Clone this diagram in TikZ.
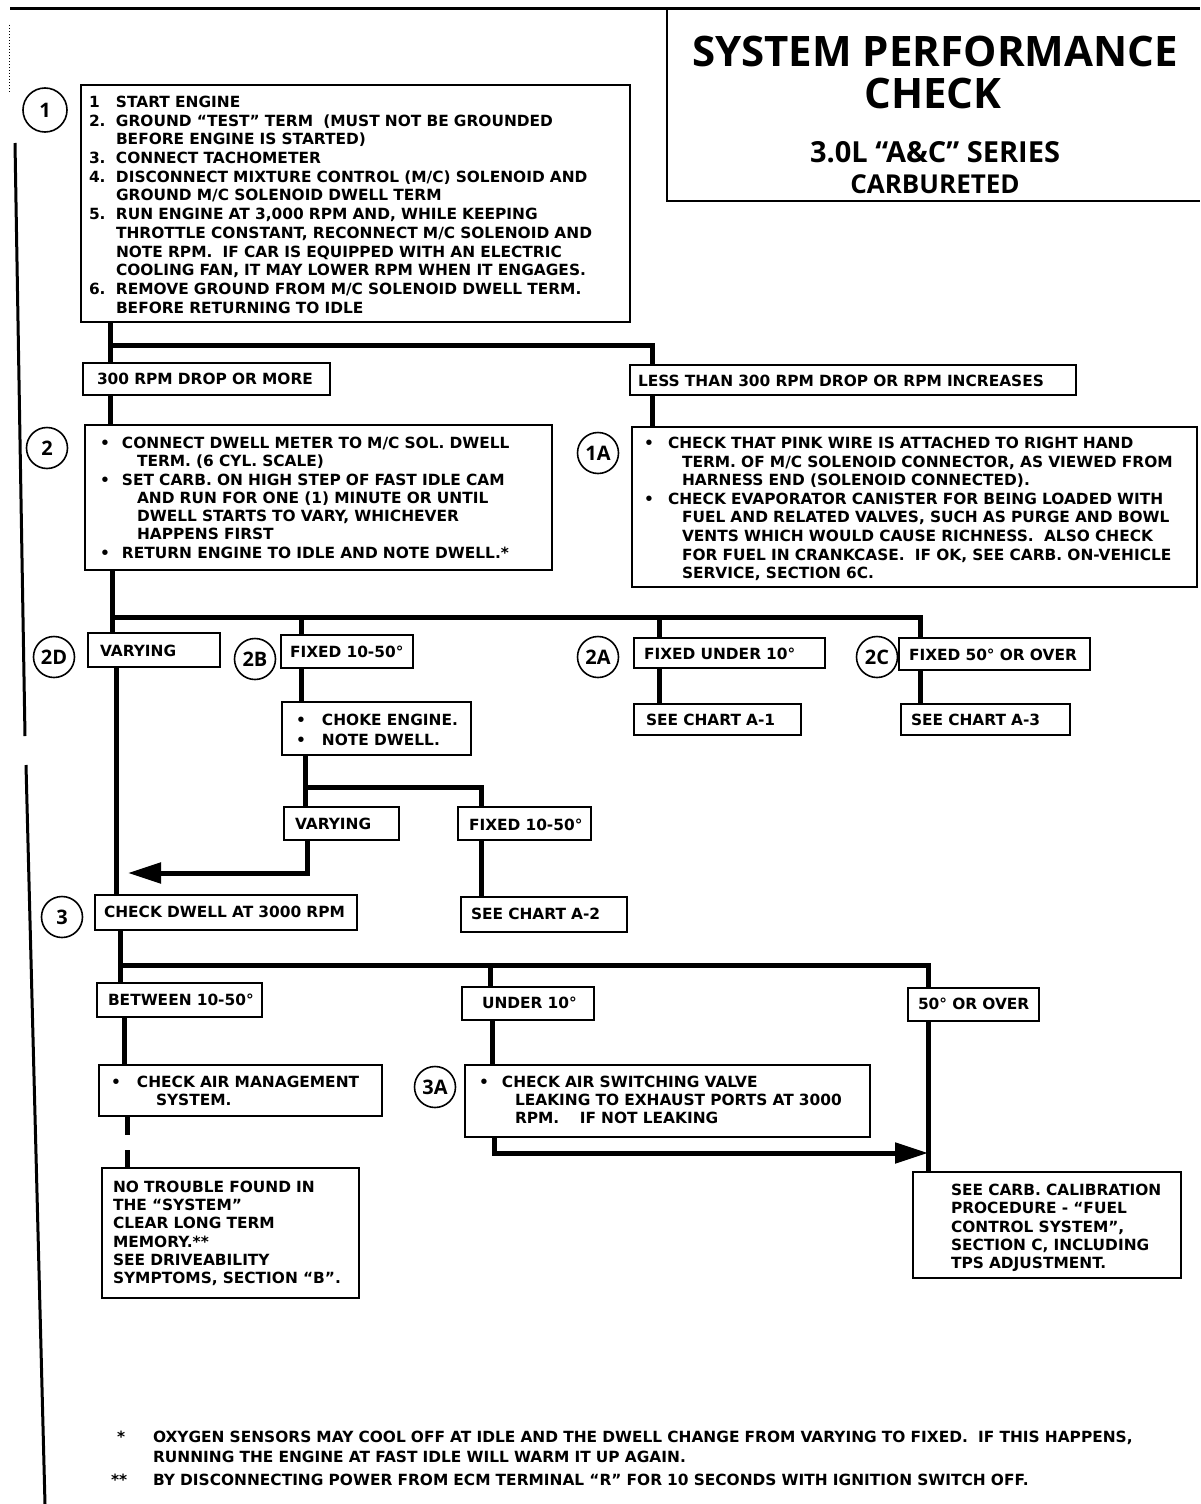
\documentclass[tikz,border=0pt]{standalone}
\usepackage{fontspec}
\setmainfont{DejaVu Sans}
\newfontfamily\ttlfont{Open Sans}
\usetikzlibrary{arrows.meta}
\newcommand\bx{\bfseries\fontsize{15.4}{18.5}\selectfont}
\newcommand\clab{\ttlfont\bfseries\fontsize{20}{20}\selectfont}
\newcommand\nm[1]{\makebox[27pt][l]{#1}}
\newcommand\bl[1]{\makebox[#1][l]{\textbullet}}
\newcommand\bbox[5]{\node[box, minimum width={(#4-#2)*1pt}, minimum height={(#5-#3)*1pt}] (#1) at (#2,#3) {};}
\begin{document}
\begin{tikzpicture}[x=1pt,y=-1pt,
  box/.style={draw, line width=1.8pt, anchor=north west, inner sep=0pt, outer sep=0pt},
  txt/.style={anchor=base west, inner sep=0pt, outer sep=0pt, text width=700pt, align=left, font=\bx},
  circ/.style={circle, draw, line width=1.6pt, minimum size=41pt, inner sep=0pt, font=\clab},
  conn/.style={line width=5pt},
  arr/.style={conn, -{Triangle[length=33pt,width=20pt]}},
  frame/.style={line width=3pt},
  ttl/.style={inner sep=0pt, anchor=center}]
\useasboundingbox[fill=white] (0,0) rectangle (1200,1504);

% page frame and title box
\draw[frame] (10,9) -- (1200,9);
\draw[frame] (15,143) -- (25,736);
\draw[frame] (26,765) -- (45,1504);
\draw[line width=1pt, dotted] (9,25) -- (9,92);
\draw[line width=2pt] (667,9) -- (667,201) -- (1200,201);
\node[ttl, font=\ttlfont\bfseries\fontsize{42}{42}\selectfont] (t1) at (935,51) {SYSTEM PERFORMANCE};
\node[ttl, font=\ttlfont\bfseries\fontsize{42}{42}\selectfont] (t2) at (933,93) {CHECK};
\node[ttl, font=\ttlfont\bfseries\fontsize{29}{29}\selectfont] (t3) at (935,152) {3.0L “A\&C” SERIES};
\node[ttl, font=\ttlfont\bfseries\fontsize{26}{26}\selectfont] (t4) at (935,184) {CARBURETED};

% boxes
\bbox{b1}{81}{85}{630}{322}
\bbox{b300}{83}{363}{330}{395}
\bbox{bless}{630}{365}{1076}{395}
\bbox{b2}{85}{425}{552}{570}
\bbox{b1a}{632}{427}{1197}{587}
\bbox{bvar1}{88}{633}{220}{667}
\bbox{bf1050}{281}{635}{413}{668}
\bbox{bfu10}{634}{638}{825}{668}
\bbox{bf50}{899}{638}{1090}{670}
\bbox{bchoke}{282}{702}{471}{755}
\bbox{ba1}{634}{704}{801}{735}
\bbox{ba3}{901}{704}{1070}{735}
\bbox{bvar2}{284}{807}{399}{840}
\bbox{bf1050b}{458}{807}{591}{840}
\bbox{bchk}{95}{895}{357}{930}
\bbox{ba2}{461}{897}{627}{932}
\bbox{bbetw}{97}{983}{262}{1017}
\bbox{bund}{462}{987}{594}{1020}
\bbox{b50}{908}{988}{1039}{1021}
\bbox{bair}{99}{1065}{382}{1116}
\bbox{b3a}{465}{1065}{870}{1137}
\bbox{bnotr}{102}{1168}{359}{1298}
\bbox{bcarb}{913}{1172}{1181}{1278}

% circles
\node[circ, minimum size=44pt] (c1) at (45,110) {1};
\node[circ] (c2) at (47,448) {2};
\node[circ] (c1a) at (598,453) {1A};
\node[circ] (c2d) at (54,657) {2D};
\node[circ] (c2b) at (255,659) {2B};
\node[circ] (c2a) at (598,657) {2A};
\node[circ] (c2c) at (877,657) {2C};
\node[circ] (c3) at (62,917) {3};
\node[circ] (c3a) at (435,1087) {3A};

% texts
\node[txt, font=\bfseries\fontsize{15.4}{18.7}\selectfont] (b1t) at (89,107.4) {\nm{1}START ENGINE\\
\nm{2.}GROUND “TEST” TERM\ \ (MUST NOT BE GROUNDED\\
\nm{}BEFORE ENGINE IS STARTED)\\
\nm{3.}CONNECT TACHOMETER\\
\nm{4.}DISCONNECT MIXTURE CONTROL (M/C) SOLENOID AND\\
\nm{}GROUND M/C SOLENOID DWELL TERM\\
\nm{5.}RUN ENGINE AT 3,000 RPM AND, WHILE KEEPING\\
\nm{}THROTTLE CONSTANT, RECONNECT M/C SOLENOID AND\\
\nm{}NOTE RPM.\ \ IF CAR IS EQUIPPED WITH AN ELECTRIC\\
\nm{}COOLING FAN, IT MAY LOWER RPM WHEN IT ENGAGES.\\
\nm{6.}REMOVE GROUND FROM M/C SOLENOID DWELL TERM.\\
\nm{}BEFORE RETURNING TO IDLE};
\node[txt] (b300t) at (97,384.4) {300 RPM DROP OR MORE};
\node[txt] (blesst) at (638,386.4) {LESS THAN 300 RPM DROP OR RPM INCREASES};
\node[txt, font=\bfseries\fontsize{15.4}{18.3}\selectfont] (b2t) at (100,448.4) {\bl{22pt}CONNECT DWELL METER TO M/C SOL. DWELL\\
\hspace*{37pt}TERM. (6 CYL. SCALE)\\
\bl{22pt}SET CARB. ON HIGH STEP OF FAST IDLE CAM\\
\hspace*{37pt}AND RUN FOR ONE (1) MINUTE OR UNTIL\\
\hspace*{37pt}DWELL STARTS TO VARY, WHICHEVER\\
\hspace*{37pt}HAPPENS FIRST\\
\bl{22pt}RETURN ENGINE TO IDLE AND NOTE DWELL.*};
\node[txt, font=\bfseries\fontsize{15.4}{18.6}\selectfont] (b1at) at (644,448.4) {\bl{24pt}CHECK THAT PINK WIRE IS ATTACHED TO RIGHT HAND\\
\hspace*{38pt}TERM. OF M/C SOLENOID CONNECTOR, AS VIEWED FROM\\
\hspace*{38pt}HARNESS END (SOLENOID CONNECTED).\\
\bl{24pt}CHECK EVAPORATOR CANISTER FOR BEING LOADED WITH\\
\hspace*{38pt}FUEL AND RELATED VALVES, SUCH AS PURGE AND BOWL\\
\hspace*{38pt}VENTS WHICH WOULD CAUSE RICHNESS.\ \ ALSO CHECK\\
\hspace*{38pt}FOR FUEL IN CRANKCASE.\ \ IF OK, SEE CARB. ON-VEHICLE\\
\hspace*{38pt}SERVICE, SECTION 6C.};
\node[txt] (bvar1t) at (100,656.4) {VARYING};
\node[txt] (bf1050t) at (290,657.4) {FIXED 10-50°};
\node[txt] (bfu10t) at (644,659.4) {FIXED UNDER 10°};
\node[txt] (bf50t) at (909,660.4) {FIXED 50° OR OVER};
\node[txt, font=\bfseries\fontsize{15.4}{20}\selectfont] (bchoket) at (296,725.4) {\bl{26pt}CHOKE ENGINE.\\ \bl{26pt}NOTE DWELL.};
\node[txt] (ba1t) at (646,725.4) {SEE CHART A-1};
\node[txt] (ba3t) at (911,725.4) {SEE CHART A-3};
\node[txt] (bvar2t) at (295,829.4) {VARYING};
\node[txt] (bf1050bt) at (469,830.4) {FIXED 10-50°};
\node[txt] (bchkt) at (104,917.4) {CHECK DWELL AT 3000 RPM};
\node[txt] (ba2t) at (471,919.4) {SEE CHART A-2};
\node[txt] (bbetwt) at (108,1005.4) {BETWEEN 10-50°};
\node[txt] (bundt) at (482,1008.4) {UNDER 10°};
\node[txt] (b50t) at (918,1009.4) {50° OR OVER};
\node[txt, font=\bfseries\fontsize{15.4}{18}\selectfont] (bairt) at (111,1087.4) {\bl{26pt}CHECK AIR MANAGEMENT\\ \hspace*{45pt}SYSTEM.};
\node[txt, font=\bfseries\fontsize{15.4}{18}\selectfont] (b3at) at (479,1087.4) {\bl{23pt}CHECK AIR SWITCHING VALVE\\
\hspace*{36pt}LEAKING TO EXHAUST PORTS AT 3000\\
\hspace*{36pt}RPM.\ \ \ \ IF NOT LEAKING};
\node[txt, font=\bfseries\fontsize{15.4}{18.2}\selectfont] (bnotrt) at (113,1192.4) {NO TROUBLE FOUND IN\\
THE “SYSTEM”\\
CLEAR LONG TERM\\
MEMORY.**\\
SEE DRIVEABILITY\\
SYMPTOMS, SECTION “B”.};
\node[txt, font=\bfseries\fontsize{15.4}{18.3}\selectfont] (bcarbt) at (951,1195.4) {SEE CARB. CALIBRATION\\
PROCEDURE - “FUEL\\
CONTROL SYSTEM”,\\
SECTION C, INCLUDING\\
TPS ADJUSTMENT.};

% footnotes
\node[txt] (fn1m) at (117,1442.4) {*};
\node[txt, text width=1040pt, font=\bfseries\fontsize{15.4}{20.5}\selectfont] (fn1) at (153,1442.4) {OXYGEN SENSORS MAY COOL OFF AT IDLE AND THE DWELL CHANGE FROM VARYING TO FIXED.\ \ IF THIS HAPPENS,\\
RUNNING THE ENGINE AT FAST IDLE WILL WARM IT UP AGAIN.};
\node[txt] (fn2m) at (111,1485.4) {**};
\node[txt, text width=1040pt] (fn2) at (153,1485.4) {BY DISCONNECTING POWER FROM ECM TERMINAL “R” FOR 10 SECONDS WITH IGNITION SWITCH OFF.};

% junction coordinates
\coordinate (j1) at (110,345);
\coordinate (j1r) at (652,345);
\coordinate (j2) at (112,617);
\coordinate (j2r) at (920,617);
\coordinate (xa) at (301,0);
\coordinate (xb) at (659,0);
\coordinate (xm) at (116,0);
\coordinate (j3) at (305,787);
\coordinate (j3r) at (481,787);
\coordinate (k1) at (307,873);
\coordinate (tip1) at (128,873);
\coordinate (j4) at (120,965);
\coordinate (j4r) at (928,965);
\coordinate (xc) at (490,0);
\coordinate (xd) at (124,0);
\coordinate (xe) at (492,0);
\coordinate (k2) at (494,1153);
\coordinate (xf) at (127,0);

% connectors
\draw[conn] (j1 |- b1.south) -- (j1 |- b300.north);
\draw[conn] (j1) -- (j1r) -- (j1r |- bless.north);
\draw[conn] (j1 |- b300.south) -- (j1 |- b2.north);
\draw[conn] (j1r |- bless.south) -- (j1r |- b1a.north);
\draw[conn] (j2 |- b2.south) -- (j2 |- bvar1.north);
\draw[conn] (j2) -- (j2r) -- (j2r |- bf50.north);
\draw[conn] (xa |- j2) -- (xa |- bf1050.north);
\draw[conn] (xb |- j2) -- (xb |- bfu10.north);
\draw[conn] (xm |- bvar1.south) -- (xm |- bchk.north);
\draw[conn] (xa |- bf1050.south) -- (xa |- bchoke.north);
\draw[conn] (xb |- bfu10.south) -- (xb |- ba1.north);
\draw[conn] (j2r |- bf50.south) -- (j2r |- ba3.north);
\draw[conn] (j3 |- bchoke.south) -- (j3 |- bvar2.north);
\draw[conn] (j3) -- (j3r) -- (j3r |- bf1050b.north);
\draw[arr] (k1 |- bvar2.south) -- (k1) -- (tip1);
\draw[conn] (j3r |- bf1050b.south) -- (j3r |- ba2.north);
\draw[conn] (j4 |- bchk.south) -- (j4 |- bbetw.north);
\draw[conn] (j4) -- (j4r) -- (j4r |- b50.north);
\draw[conn] (xc |- j4) -- (xc |- bund.north);
\draw[conn] (xd |- bbetw.south) -- (xd |- bair.north);
\draw[conn] (xe |- bund.south) -- (xe |- b3a.north);
\draw[arr] (k2 |- b3a.south) -- (k2) -- (j4r |- k2);
\draw[conn] (j4r |- b50.south) -- (j4r |- bcarb.north);
\draw[conn, dash pattern=on 19pt off 15pt] (xf |- bair.south) -- (xf |- bnotr.north);
\end{tikzpicture}
\end{document}
